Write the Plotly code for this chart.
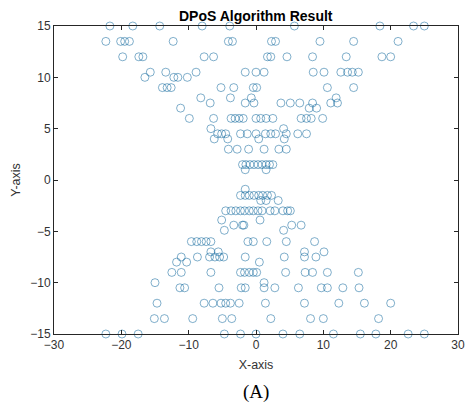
import plotly.graph_objects as go

# Upper half points (x, y)
x_upper = [-21.7, -18.3, -14.3, -8.0, -3.9, 5.7, 18.4, 23.4, 25.0,
           -22.3, -20.1, -19.5, -18.8, -12.3, -4.1, -3.5, 2.3, 2.9, 9.5, 14.5, 21.1,
           -19.8, -17.4, -16.8, -7.7, -6.3, 1.7, 2.2, 4.6, 8.4, 13.4, 18.7, 20.0,
           -15.7, -13.4, -8.9, -1.6, 0.0, 1.2, 8.5, 10.1, 12.6, 13.6, 14.3, 15.2,
           -16.5, -12.2, -11.6, -10.2,
           -13.9, -13.2, -12.6, -5.2, -3.3, -0.4, 0.1, 10.6, 14.5,
           -8.2, -3.8, -0.7, 11.9,
           -6.8, -1.6, -0.3, 3.7, 5.1, 6.5, 8.4, 11.1, 12.1,
           -11.2, 7.9, 9.0,
           -9.9, -6.3, -3.7, -3.1, -2.5, -1.9, 0.0, 0.7, 1.5, 2.5, 6.7, 7.5, 8.2, 9.9,
           -6.7, 4.1,
           -5.7, -5.1, -4.5, -2.3, -1.3, 0.0, 1.4, 2.2, 2.9, 4.5, 6.2, 7.5,
           -6.2, -4.2, 0.4, 4.2,
           -4.1, -2.8, -1.1, 1.2, 3.4, 4.5,
           -2.0, -1.5, -0.9, -0.3, 0.3, 0.9, 1.5, 2.0, 2.5,
           -1.6, 1.5]
y_upper = [15]*9 + [13.5]*12 + [12]*12 + [10.5]*12 + [10.0]*4 + [9]*9 + [8.0]*4 + \
          [7.5]*9 + [7.0]*3 + [6]*14 + [5.0]*2 + [4.5]*12 + [4.0]*4 + [3]*6 + \
          [1.5]*9 + [1.0]*2

# Lower half points (x, y)
x_lower = [-1.6,
           -2.3, -1.6, -1.0, -0.3, 0.4, 1.0, 1.7, 2.3,
           0.7, 1.5, 3.3,
           -4.5, -3.7, -3.0, -2.3, -1.7, -1.0, -0.4, 0.3, 0.9, 2.1, 2.8, 4.0, 4.7, 5.1,
           -5.1, 0.6,
           -3.3, -2.0, -1.8, 5.3, 6.7,
           -4.7, 4.1,
           -9.6, -8.8, -8.1, -7.4, -6.7, -1.2, -0.4, 1.6, 4.5, 8.7,
           -6.7, -5.6, 7.2, 10.1,
           -11.1, -8.7, -6.9, -6.1, -5.4, -4.8, -1.6, 4.2, 7.2, 8.9,
           -11.8, -10.3, 0.5,
           -12.5, -11.1, -6.7, -2.3, -1.7, -1.0, -0.4, 0.1, 4.4, 7.3, 8.4, 10.6, 15.2,
           -15.0, 1.2,
           -11.3, -10.6, -5.5, -2.2, -1.6, 1.2, 2.8, 6.3, 9.7, 10.6, 12.9, 15.3,
           -14.7, -7.7, -6.4, -5.2, -4.5, -3.8, -2.5, 1.4, 7.2, 12.3, 16.1, 20.0,
           -15.1, -13.6, -9.4, -5.0, -3.6, 2.2, 8.1, 10.0, 18.2,
           -22.3, -19.9, -17.5, -4.7, -2.3, 0.0, 4.0, 6.5, 11.5, 15.5, 17.8, 22.6, 25.0]
y_lower = [-0.9] + [-1.5]*8 + [-2.0]*3 + [-3]*14 + [-3.9]*2 + [-4.4]*5 + [-4.9]*2 + \
          [-6]*10 + [-7.0]*4 + [-7.5]*10 + [-8.0]*3 + [-9]*13 + [-10]*2 + \
          [-10.5]*12 + [-12]*12 + [-13.5]*9 + [-15]*13

x_ticks = [-30, -20, -10, 0, 10, 20, 30]
y_ticks = [-15, -10, -5, 0, 5, 10, 15]

marker_col = "rgba(25,110,160,0.55)"

fig = go.Figure()
fig.add_trace(go.Scatter(
    x=x_upper + x_lower, y=y_upper + y_lower, mode="markers",
    marker=dict(symbol="circle-open", size=8, color=marker_col,
                line=dict(width=1, color=marker_col)),
    cliponaxis=False, showlegend=False))

tick_font = dict(family="Liberation Sans, Arial", size=12, color="#333333")
axis_common = dict(showline=True, linecolor="#262626", linewidth=1, mirror="ticks",
                   ticks="inside", ticklen=4, tickcolor="#262626", showgrid=False,
                   zeroline=False, tickfont=tick_font, ticklabeloverflow="allow")

fig.update_xaxes(range=[-30, 30], tickvals=x_ticks, **axis_common,
                 title=dict(text="X-axis", font=dict(family="Liberation Sans, Arial", size=12.5, color="#333333"),
                            standoff=8))
fig.update_yaxes(range=[-15, 15], tickvals=y_ticks, **axis_common,
                 title=dict(text="Y-axis", font=dict(family="Liberation Sans, Arial", size=12.5, color="#333333"),
                            standoff=6))

fig.update_layout(
    width=471, height=403,
    margin=dict(l=54, r=6, t=26, b=69),
    paper_bgcolor="white", plot_bgcolor="white",
    annotations=[
        dict(text="<b>DPoS Algorithm Result</b>", x=0.5, y=1, xref="paper", yref="paper",
             xanchor="center", yanchor="bottom", yshift=0, showarrow=False,
             font=dict(family="Liberation Sans, Arial", size=14, color="black")),
        dict(text="(A)", x=0.5, y=0, xref="paper", yref="paper",
             xanchor="center", yanchor="middle", yshift=-58, showarrow=False,
             font=dict(family="Liberation Serif, Times New Roman", size=19, color="black")),
    ],
)

fig.write_html("out.html")
